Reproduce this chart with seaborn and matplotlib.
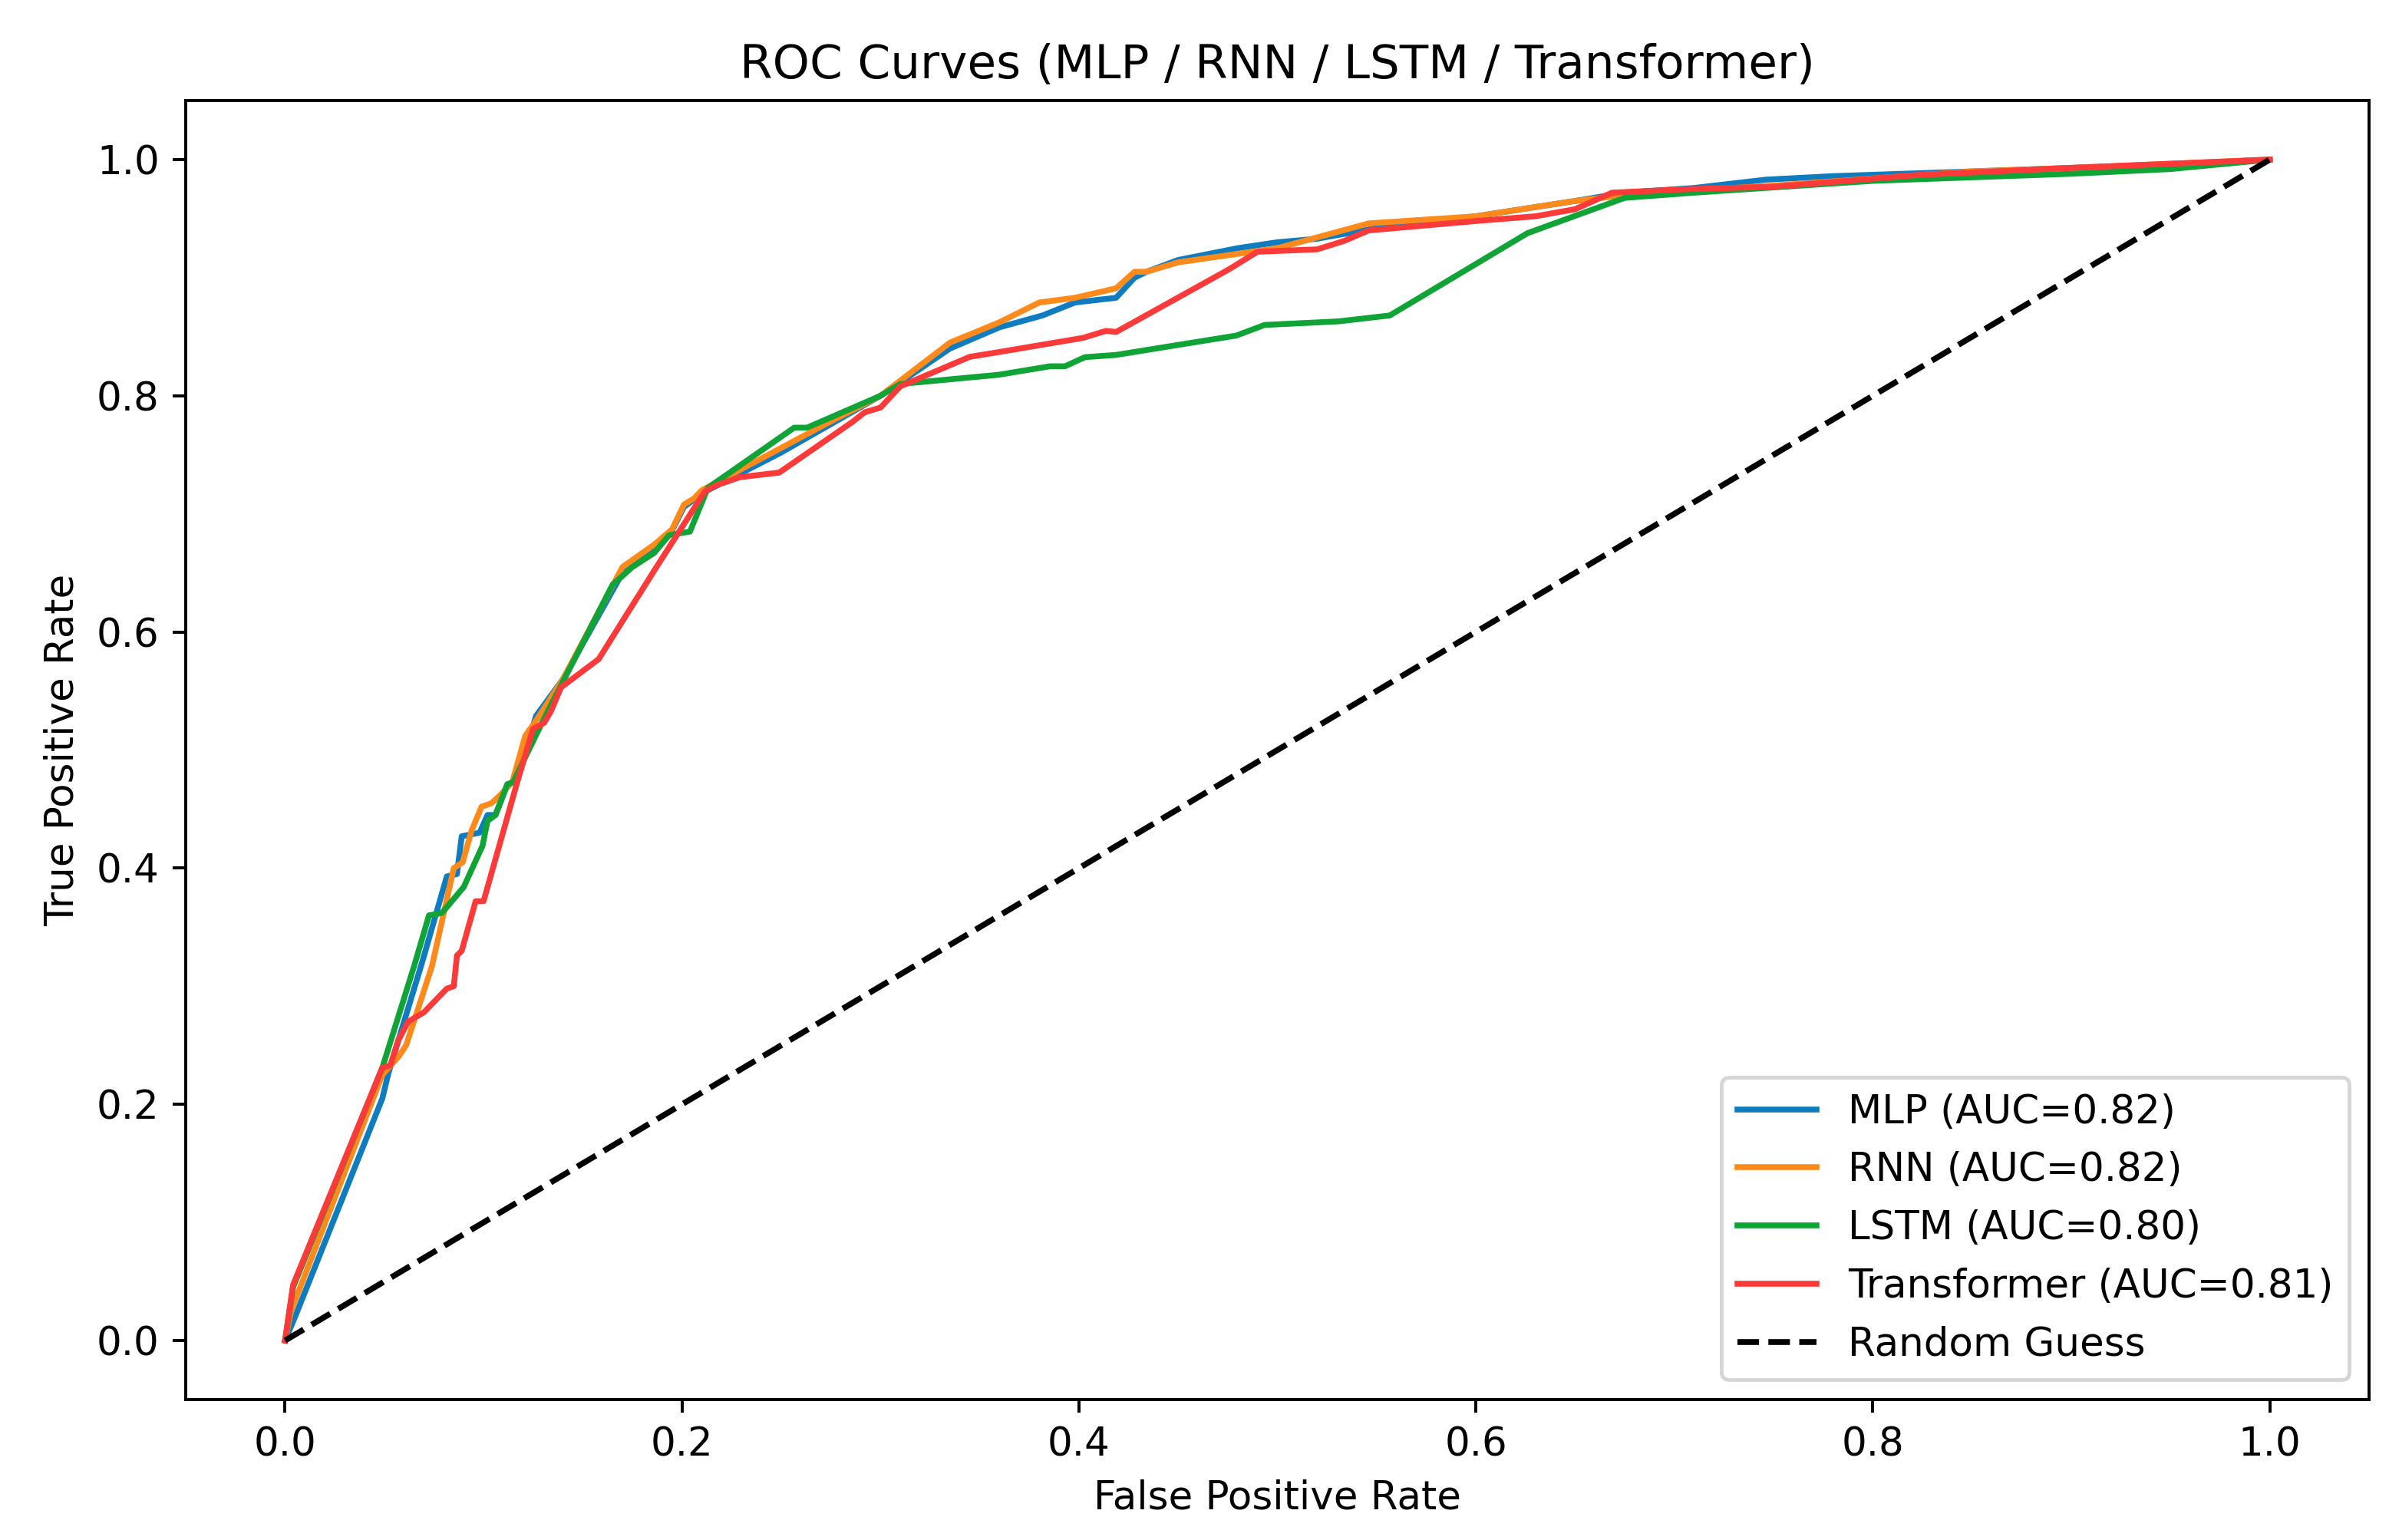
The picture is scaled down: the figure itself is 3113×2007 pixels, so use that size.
import matplotlib
matplotlib.use("Agg")
import matplotlib.pyplot as plt
import seaborn as sns
import pandas as pd

models = ["MLP", "RNN", "LSTM", "Transformer"]
aucs = [0.82, 0.82, 0.80, 0.81]
colors = ["#0f7cc0", "#ff8a1c", "#10a336", "#fc3a3a"]

mlp_fpr = [0, 0.005, 0.049, 0.052, 0.069, 0.0815, 0.0866, 0.089, 0.098, 0.102, 0.106, 0.112, 0.116,
           0.1265, 0.14, 0.17, 0.186, 0.195, 0.201, 0.206, 0.213, 0.25, 0.275, 0.30, 0.335, 0.36,
           0.3816, 0.398, 0.4187, 0.428, 0.434, 0.45, 0.48, 0.50, 0.52, 0.55, 0.60, 0.65, 0.675,
           0.71, 0.746, 0.78, 0.85, 0.90, 0.95, 1.0]
mlp_tpr = [0, 0.02, 0.205, 0.226, 0.32, 0.393, 0.395, 0.427, 0.43, 0.445, 0.445, 0.471, 0.473,
           0.529, 0.56, 0.65, 0.672, 0.686, 0.706, 0.712, 0.72, 0.752, 0.776, 0.80, 0.84, 0.858,
           0.868, 0.879, 0.883, 0.90, 0.905, 0.915, 0.925, 0.93, 0.933, 0.942, 0.952, 0.965, 0.972,
           0.976, 0.983, 0.986, 0.99, 0.993, 0.996, 1.0]

rnn_fpr = [0, 0.003, 0.049, 0.057, 0.061, 0.074, 0.085, 0.0895, 0.094, 0.099, 0.104, 0.1085, 0.1145,
           0.121, 0.1265, 0.14, 0.17, 0.186, 0.195, 0.201, 0.206, 0.210, 0.2746, 0.30, 0.335, 0.3596,
           0.380, 0.398, 0.4187, 0.428, 0.434, 0.45, 0.50, 0.546, 0.60, 0.65, 0.68, 0.75, 0.85, 0.90, 1.0]
rnn_tpr = [0, 0.025, 0.225, 0.24, 0.25, 0.317, 0.40, 0.405, 0.432, 0.452, 0.455, 0.462, 0.473,
           0.512, 0.525, 0.56, 0.655, 0.674, 0.687, 0.708, 0.713, 0.72, 0.778, 0.80, 0.845, 0.862,
           0.879, 0.883, 0.891, 0.905, 0.905, 0.913, 0.925, 0.946, 0.952, 0.965, 0.971, 0.978, 0.99, 0.993, 1.0]

lstm_fpr = [0, 0.004, 0.049, 0.065, 0.0725, 0.079, 0.090, 0.0995, 0.102, 0.106, 0.112, 0.115, 0.13,
            0.165, 0.175, 0.186, 0.1935, 0.204, 0.213, 0.2565, 0.263, 0.30, 0.31, 0.3596, 0.3855,
            0.393, 0.403, 0.4187, 0.4793, 0.4936, 0.5307, 0.5566, 0.626, 0.675, 0.71, 0.80, 0.90, 0.95, 1.0]
lstm_tpr = [0, 0.045, 0.231, 0.317, 0.36, 0.362, 0.384, 0.419, 0.44, 0.445, 0.471, 0.473, 0.525,
            0.64, 0.655, 0.667, 0.682, 0.685, 0.722, 0.773, 0.773, 0.80, 0.81, 0.8178, 0.825,
            0.825, 0.8327, 0.8346, 0.851, 0.86, 0.863, 0.868, 0.9377, 0.9676, 0.972, 0.982, 0.988, 0.992, 1.0]

trf_fpr = [0, 0.004, 0.049, 0.053, 0.057, 0.062, 0.070, 0.0815, 0.085, 0.0866, 0.089, 0.096, 0.100,
           0.117, 0.125, 0.1305, 0.134, 0.139, 0.158, 0.186, 0.2115, 0.217, 0.229, 0.249, 0.286,
           0.292, 0.30, 0.31, 0.345, 0.3596, 0.402, 0.4137, 0.4187, 0.4755, 0.49, 0.52, 0.5334,
           0.546, 0.60, 0.63, 0.65, 0.6686, 0.707, 0.75, 0.823, 0.90, 1.0]
trf_tpr = [0, 0.047, 0.231, 0.233, 0.254, 0.27, 0.278, 0.298, 0.30, 0.326, 0.33, 0.372, 0.372,
           0.473, 0.518, 0.523, 0.533, 0.553, 0.577, 0.652, 0.719, 0.724, 0.731, 0.735, 0.778,
           0.786, 0.79, 0.808, 0.833, 0.837, 0.849, 0.855, 0.854, 0.907, 0.922, 0.924, 0.931,
           0.94, 0.948, 0.952, 0.958, 0.972, 0.975, 0.977, 0.987, 0.993, 1.0]

fprs = [mlp_fpr, rnn_fpr, lstm_fpr, trf_fpr]
tprs = [mlp_tpr, rnn_tpr, lstm_tpr, trf_tpr]
diag = [0, 1]

plt.rcParams["font.size"] = 10.5
plt.rcParams["axes.titlesize"] = 12.5

fig = plt.figure(figsize=(3113 / 353, 2007 / 353), dpi=353)
ax = fig.add_axes([0.0778, 0.0912, 0.9138, 0.8435])

for name, auc, col, fx, ty in zip(models, aucs, colors, fprs, tprs):
    df = pd.DataFrame({"fpr": fx, "tpr": ty})
    sns.lineplot(data=df, x="fpr", y="tpr", ax=ax, color=col, linewidth=1.55,
                 estimator=None, sort=False, label=f"{name} (AUC={auc:.2f})")

sns.lineplot(x=diag, y=diag, ax=ax, color="black", linestyle="--", linewidth=1.55,
             estimator=None, sort=False, label="Random Guess")

ax.set_xlim(-0.05, 1.05)
ax.set_ylim(-0.05, 1.05)
ax.set_xticks([0, 0.2, 0.4, 0.6, 0.8, 1.0])
ax.set_yticks([0, 0.2, 0.4, 0.6, 0.8, 1.0])
ax.set_xlabel("False Positive Rate")
ax.set_ylabel("True Positive Rate")
ax.set_title("ROC Curves (MLP / RNN / LSTM / Transformer)")
ax.legend(loc="lower right")

fig.savefig("out.png", dpi=353)
